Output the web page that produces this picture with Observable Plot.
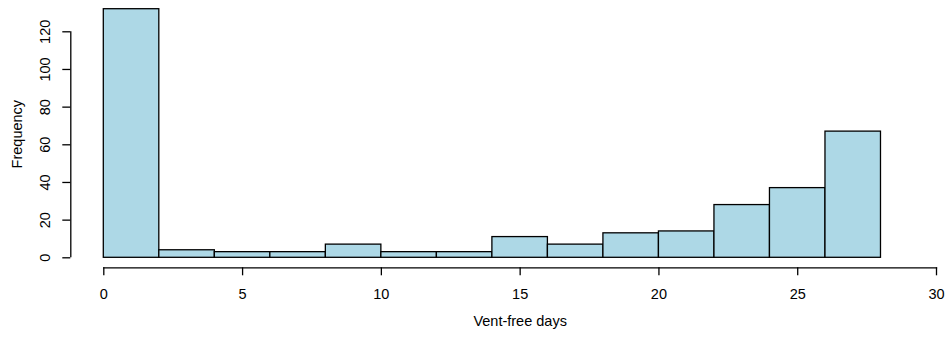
<!DOCTYPE html>
<html>
<head>
<meta charset="utf-8">
<script src="https://cdn.jsdelivr.net/npm/d3@7"></script>
<script src="https://cdn.jsdelivr.net/npm/@observablehq/plot@0.6"></script>
<style>
  html, body { margin: 0; padding: 0; background: #fff; }
  #chart svg { display: block; }
</style>
</head>
<body>
<div id="chart"></div>
<script>
// Histogram bins (width 2) and counts
const binStart = [0, 2, 4, 6, 8, 10, 12, 14, 16, 18, 20, 22, 24, 26];
const binEnd   = [2, 4, 6, 8, 10, 12, 14, 16, 18, 20, 22, 24, 26, 28];
const counts   = [132, 4, 3, 3, 7, 3, 3, 11, 7, 13, 14, 28, 37, 67];
const xTicks = [0, 5, 10, 15, 20, 25, 30];
const yTicks = [0, 20, 40, 60, 80, 100, 120];
const xLabel = "Vent-free days";
const yLabel = "Frequency";

const bins = binStart.map((s, i) => ({x1: s, x2: binEnd[i], y: counts[i]}));
const font = "'Liberation Sans', Arial, Helvetica, sans-serif";
const fs = 14.5;

const chart = Plot.plot({
  width: 948,
  height: 339,
  marginLeft: 103.3,
  marginRight: 12,
  marginTop: 0,
  marginBottom: 71.7,
  style: {fontFamily: font, fontSize: fs + "px", color: "#000", background: "#fff", overflow: "visible"},
  x: {domain: [0, 30], axis: null},
  y: {domain: [0, 132], range: [257.3, 8.7], axis: null},
  marks: [
    Plot.rectY(bins, {x1: "x1", x2: "x2", y: "y", fill: "#ADD8E6", stroke: "#000", strokeWidth: 1.3}),
    Plot.frame({anchor: "bottom", stroke: "#000", strokeWidth: 1.3}),
    Plot.axisX({ticks: xTicks, tickSize: 8, tickPadding: 13, fontSize: fs, strokeWidth: 1.3, label: null, tickFormat: d => String(d)}),
    Plot.ruleX([0], {y1: 0, y2: 120, dx: -33, stroke: "#000", strokeWidth: 1.3}),
    Plot.axisY({ticks: yTicks, tickSize: 8, tickPadding: 13, dx: -33, tickRotate: -90, fontSize: fs, strokeWidth: 1.3, label: null, tickFormat: d => String(d)}),
    Plot.text([yLabel], {text: d => d, frameAnchor: "left", textAnchor: "middle", dx: -86.6, rotate: -90, fontSize: fs}),
    Plot.text([xLabel], {text: d => d, frameAnchor: "bottom", textAnchor: "middle", dy: 57.7, fontSize: fs})
  ]
});
document.getElementById("chart").appendChild(chart);
</script>
</body>
</html>
